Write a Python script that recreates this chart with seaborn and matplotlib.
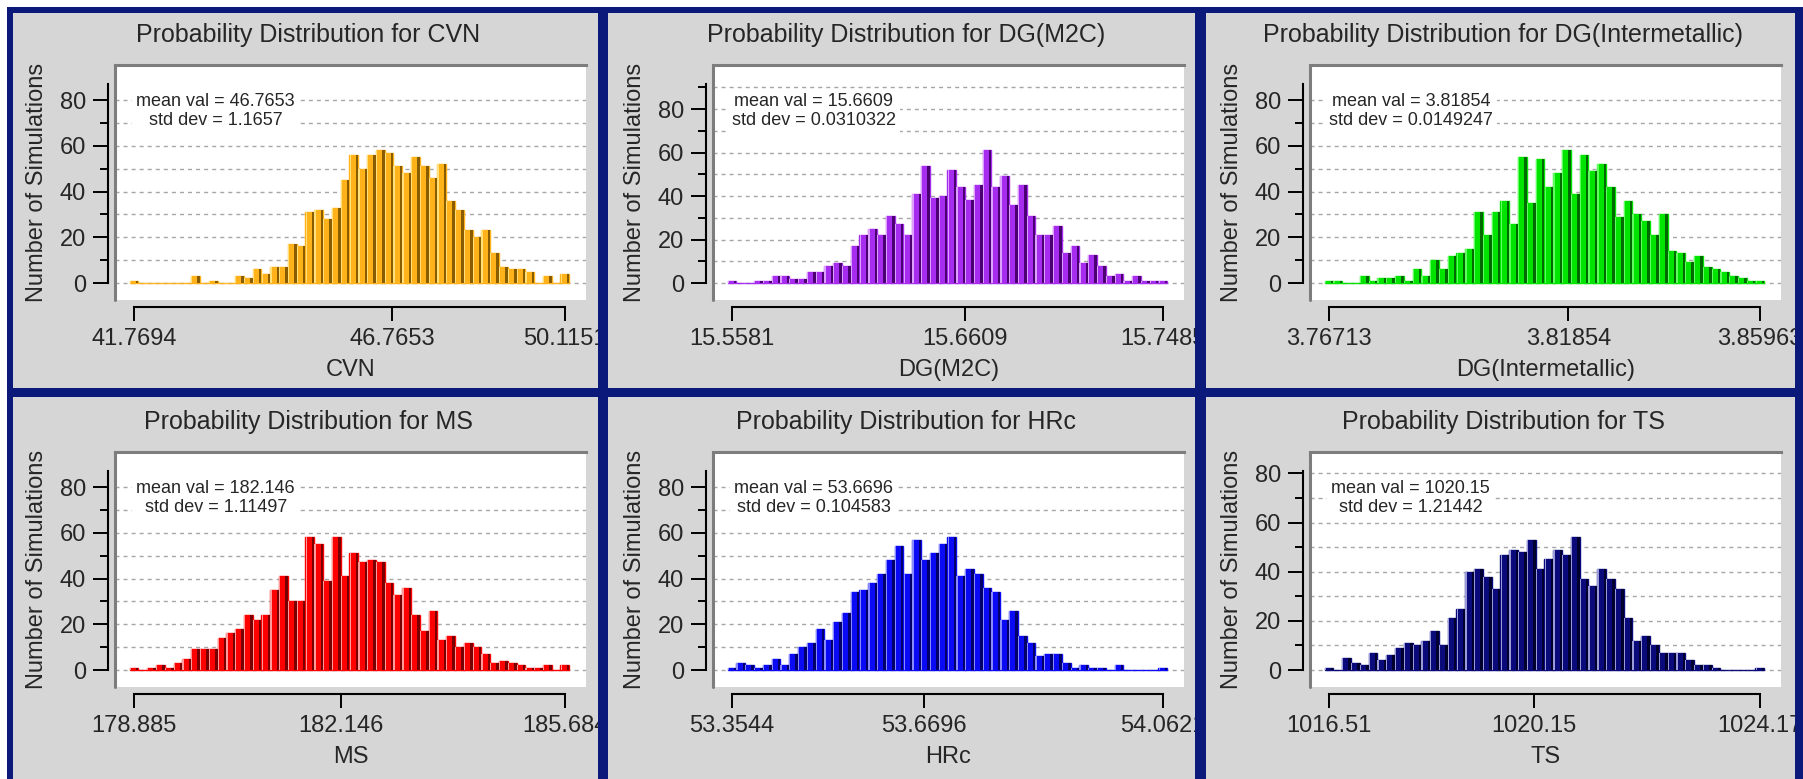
import numpy as np
import pandas as pd
import matplotlib
matplotlib.use("Agg")
import matplotlib.pyplot as plt
from matplotlib.lines import Line2D
from matplotlib.patches import Rectangle
import seaborn as sns

# ---------------- data ----------------
names = ["CVN", "DG(M2C)", "DG(Intermetallic)", "MS", "HRc", "TS"]

cvn_counts = [1, 0, 0, 0, 0, 0, 0, 3, 0, 1, 0, 0, 3, 2, 6, 4, 7, 7, 17, 16,
              31, 32, 28, 33, 45, 56, 50, 56, 58, 57, 51, 48, 55, 51, 46, 52, 36, 32, 23, 20,
              23, 13, 7, 6, 6, 5, 0, 3, 0, 4]
dgm2c_counts = [1, 0, 0, 1, 1, 3, 3, 2, 2, 5, 5, 8, 9, 8, 17, 22, 25, 22, 31, 27,
                22, 41, 54, 39, 40, 52, 44, 38, 45, 61, 44, 49, 36, 45, 31, 22, 22, 26, 14, 17,
                9, 13, 8, 3, 4, 1, 3, 1, 1, 1]
dgint_counts = [1, 1, 0, 0, 3, 1, 2, 2, 3, 1, 6, 3, 10, 6, 12, 13, 15, 31, 21, 31,
                36, 26, 55, 35, 54, 42, 48, 58, 39, 56, 49, 52, 42, 29, 36, 30, 27, 21, 30, 14,
                13, 9, 12, 7, 6, 5, 3, 2, 1, 1]
ms_counts = [1, 0, 1, 2, 1, 3, 5, 9, 9, 9, 14, 16, 18, 24, 22, 24, 35, 41, 30, 30,
             58, 55, 39, 58, 41, 51, 47, 48, 47, 38, 33, 36, 24, 17, 26, 13, 15, 10, 12, 10,
             7, 3, 4, 3, 2, 1, 1, 2, 0, 2]
hrc_counts = [1, 3, 2, 1, 2, 5, 2, 7, 10, 12, 18, 13, 21, 25, 34, 35, 38, 42, 48, 54,
              42, 57, 48, 51, 55, 58, 41, 44, 42, 36, 34, 22, 26, 15, 12, 6, 7, 7, 3, 1,
              2, 1, 1, 0, 2, 0, 0, 0, 0, 1]
ts_counts = [1, 0, 5, 3, 2, 7, 4, 6, 9, 11, 10, 12, 16, 10, 21, 25, 40, 41, 38, 33,
             47, 49, 48, 53, 41, 45, 49, 47, 54, 37, 34, 41, 37, 33, 21, 12, 14, 10, 7, 7,
             7, 4, 2, 2, 1, 0, 0, 0, 0, 1]
all_counts = [cvn_counts, dgm2c_counts, dgint_counts, ms_counts, hrc_counts, ts_counts]

min_vals = [41.7694, 15.5581, 3.76713, 178.885, 53.3544, 1016.51]
mean_vals = [46.7653, 15.6609, 3.81854, 182.146, 53.6696, 1020.15]
max_vals = [50.1151, 15.7485, 3.85963, 185.684, 54.0621, 1024.17]
min_labels = ["41.7694", "15.5581", "3.76713", "178.885", "53.3544", "1016.51"]
mean_labels = ["46.7653", "15.6609", "3.81854", "182.146", "53.6696", "1020.15"]
max_labels = ["50.1151", "15.7485", "3.85963", "185.684", "54.0621", "1024.17"]
std_labels = ["1.1657", "0.0310322", "0.0149247", "1.11497", "0.104583", "1.21442"]

face_colors = ["#ffb21a", "#a62cf0", "#00e400", "#ff0000", "#0a0af5", "#0a0a7a"]
light_colors = ["#ffe07a", "#dca0ff", "#60ff60", "#ff9a9a", "#8a8aff", "#9a9ad8"]
shade_colors = ["#8a5c00", "#4a0070", "#006a00", "#780000", "#000068", "#00002e"]

# ---------------- style ----------------
sns.set_style("white")
plt.rcParams["font.family"] = ["Liberation Sans", "DejaVu Sans"]

W, H = 1803, 779
fig = plt.figure(figsize=(W / 100, H / 100), dpi=100, facecolor="white")

panel_gray = "#d6d6d6"
navy = "#0b1a7a"


def band(x0, y0, x1, y1, color, z):
    fig.patches.append(Rectangle((x0 / W, 1 - y1 / H), (x1 - x0) / W, (y1 - y0) / H,
                                 transform=fig.transFigure, facecolor=color,
                                 edgecolor="none", zorder=z))


band(7, 7, W, H, panel_gray, -5)
for x0, x1 in [(7, 13), (598, 608), (1195, 1206), (1795, W)]:
    band(x0, 7, x1, H, navy, 10)
for y0, y1 in [(7, 13), (388, 397)]:
    band(7, y0, W, y1, navy, 10)

col_x = [0, 598, 1195]
row_y = [0, 387]
FS = 17

for k, name in enumerate(names):
    r, c = divmod(k, 3)
    ox, oy = col_x[c], row_y[r]
    L, R, T, B = ox + 115, ox + 586, oy + 65, oy + 300
    ax = fig.add_axes([L / W, 1 - B / H, (R - L) / W, (B - T) / H])
    ax.set_facecolor("white")

    counts = np.asarray(all_counts[k], dtype=float)
    n = len(counts)
    lo, hi = min_vals[k], max_vals[k]
    w = (hi - lo) / (n - 1)
    centers = np.linspace(lo, hi, n)
    e0, e1 = lo - w / 2, hi + w / 2
    s = 0.36 * w
    h = -0.42 * w
    df = pd.DataFrame({"value": centers, "count": counts,
                       "value_s": centers + s, "value_h": centers + h})

    # base face (full bin width; zero bins draw a coloured line)
    sns.histplot(data=df, x="value", weights="count", bins=n, binrange=(e0, e1),
                 color=face_colors[k], edgecolor=face_colors[k], linewidth=1.0,
                 alpha=1, ax=ax)
    # right-hand shadow
    sns.histplot(data=df, x="value_s", weights="count", bins=n, binrange=(e0 + s, e1 + s),
                 shrink=0.28, color=shade_colors[k], edgecolor="none", linewidth=0,
                 alpha=1, ax=ax)
    # left highlight
    sns.histplot(data=df, x="value_h", weights="count", bins=n, binrange=(e0 + h, e1 + h),
                 shrink=0.14, color=light_colors[k], edgecolor="none", linewidth=0,
                 alpha=1, ax=ax)

    top = 1.5 * counts.max()
    ax.set_ylim(-0.0854 * top, 1.0955 * top)
    span = hi - lo
    ax.set_xlim(lo - 0.044 * span, hi + 0.049 * span)

    major = np.arange(0, top + 1e-9, 20)
    minor = np.arange(10, top + 1e-9, 20)
    ax.set_yticks(major)
    ax.set_yticks(minor, minor=True)
    ax.set_yticklabels([str(int(v)) for v in major])
    ax.set_xticks([lo, mean_vals[k], hi])
    ax.set_xticklabels([min_labels[k], mean_labels[k], max_labels[k]])

    ax.tick_params(axis="y", which="major", direction="out", length=11, width=1.4,
                   color="black", labelsize=FS, pad=5, left=True)
    ax.tick_params(axis="y", which="minor", direction="out", length=6, width=1.4,
                   color="black", left=True)
    ax.tick_params(axis="x", which="major", direction="out", length=10, width=1.4,
                   color="black", labelsize=FS, pad=5, bottom=True)

    ax.set_axisbelow(True)
    ax.grid(False)
    ax.grid(axis="y", which="both", color="#a6a6a6", linestyle=(0, (2.9, 2.9)),
            linewidth=1.0)

    for side in ["left", "bottom", "top", "right"]:
        ax.spines[side].set_visible(True)
    ax.spines["right"].set_visible(False)
    ax.spines["top"].set_color("#7d7d7d")
    ax.spines["top"].set_linewidth(2.2)
    ax.spines["left"].set_position(("outward", 4.8))
    ax.spines["left"].set_bounds(0, top)
    ax.spines["left"].set_color("black")
    ax.spines["left"].set_linewidth(1.5)
    ax.spines["bottom"].set_position(("outward", 5))
    ax.spines["bottom"].set_bounds(lo, hi)
    ax.spines["bottom"].set_color("black")
    ax.spines["bottom"].set_linewidth(1.5)
    ax.add_line(Line2D([0, 0], [0, 1], transform=ax.transAxes, color="#7d7d7d",
                       linewidth=2.2, clip_on=False, zorder=4))

    ax.set_ylabel("Number of Simulations", fontsize=FS)
    ax.yaxis.set_label_coords(-0.142, 0.5)
    ax.set_xlabel(name, fontsize=FS)
    ax.xaxis.set_label_coords(0.5, -0.25)

    ax.text(0.41, 1.098, f"Probability Distribution for {name}", transform=ax.transAxes,
            ha="center", va="baseline", fontsize=18)
    ax.text(0.214, 0.804, f"mean val = {mean_labels[k]}\nstd dev = {std_labels[k]}",
            transform=ax.transAxes, ha="center", va="center", multialignment="center",
            fontsize=13, linespacing=1.15, zorder=6,
            bbox=dict(boxstyle="square,pad=0.25", facecolor="white", edgecolor="none"))

fig.savefig("out.png", dpi=100, facecolor=fig.get_facecolor())
